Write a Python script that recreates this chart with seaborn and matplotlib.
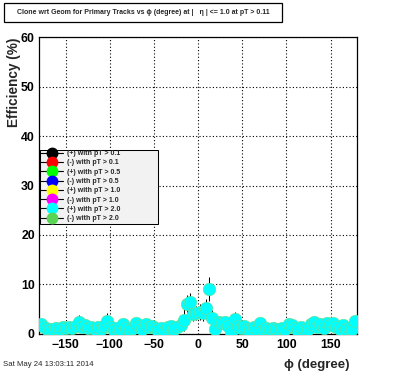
import numpy as np
import pandas as pd
import matplotlib.pyplot as plt
import seaborn as sns
from matplotlib.lines import Line2D
from matplotlib.patches import Rectangle
from matplotlib.ticker import MultipleLocator

# 100 bins in phi, only the top (cyan) series is visible in the picture
phi_centers = np.linspace(-178.2, 178.2, 100)
eff_values = [
    1.9, 1.4, 0.9, 1.0, 0.7, 1.2, 1.0, 1.3, 1.1, 1.4,
    1.2, 1.6, 2.4, 1.3, 1.7, 1.1, 1.4, 0.9, 1.3, 1.0,
    1.5, 2.6, 1.4, 0.8, 1.1, 0.9, 2.0, 1.2, 0.8, 1.1,
    2.1, 1.5, 1.0, 1.9, 1.3, 1.6, 1.1, 0.7, 1.2, 0.5,
    1.3, 1.6, 1.0, 1.4, 1.7, 2.8, 6.0, 6.4, 4.0, 4.2,
    4.4, 4.1, 5.2, 9.0, 3.2, 1.0, 2.4, 2.2, 2.3, 1.5,
    0.3, 3.0, 1.5, 1.2, 1.6, 1.0, 0.7, 1.3, 1.0, 2.2,
    0.8, 1.1, 0.9, 1.2, 1.0, 0.9, 1.1, 1.0, 2.0, 1.8,
    1.2, 0.8, 1.4, 1.0, 0.9, 1.9, 2.3, 1.4, 2.0, 1.1,
    2.2, 1.7, 2.2, 1.3, 1.0, 1.8, 0.9, 1.2, 1.0, 2.6,
]
eff_errors = [
    0.6, 0.5, 0.4, 0.5, 0.4, 0.5, 0.5, 0.5, 0.5, 0.6,
    0.5, 0.6, 1.3, 0.5, 0.6, 0.5, 0.6, 0.4, 0.5, 0.5,
    0.6, 1.6, 0.6, 0.4, 0.5, 0.4, 0.7, 0.5, 0.4, 0.5,
    0.7, 0.6, 0.5, 0.7, 0.5, 0.6, 0.5, 0.4, 0.5, 0.4,
    0.5, 0.6, 0.5, 0.6, 0.7, 2.2, 1.8, 1.8, 1.5, 1.5,
    1.6, 1.5, 1.8, 2.4, 1.6, 0.8, 1.0, 1.0, 1.0, 0.7,
    0.4, 1.4, 1.0, 0.5, 0.6, 0.5, 0.4, 0.5, 0.5, 0.7,
    0.4, 0.5, 0.4, 0.5, 0.5, 0.4, 0.5, 0.5, 0.7, 0.7,
    0.5, 0.4, 0.6, 0.5, 0.4, 0.7, 1.0, 0.6, 0.7, 0.5,
    0.7, 0.6, 0.7, 0.5, 0.5, 0.7, 0.4, 0.5, 0.5, 0.8,
]

series_labels = ['(+) with pT > 0.1', '(-) with pT > 0.1', '(+) with pT > 0.5',
                 '(-) with pT > 0.5', '(+) with pT > 1.0', '(-) with pT > 1.0',
                 '(+) with pT > 2.0', '(-) with pT > 2.0']
series_colors = ['#000000', '#ff0000', '#00ff00', '#0000ff', '#ffff00', '#ff00ff',
                 '#00ffff', '#59d454']

title_text = 'Clone wrt Geom for Primary Tracks vs \u03d5 (degree) at |   \u03b7 | <= 1.0 at pT > 0.11'
date_text = 'Sat May 24 13:03:11 2014'

sns.set_style('white')
plt.rcParams['font.family'] = ['Liberation Sans', 'DejaVu Sans']

df = pd.DataFrame({'phi': phi_centers, 'eff': eff_values, 'err': eff_errors})

fig = plt.figure(figsize=(3.96, 3.72), dpi=100)
ax = fig.add_axes([39 / 396, 1 - 333.7 / 372, 318 / 396, 296.4 / 372])

ax.errorbar(df['phi'], df['eff'], yerr=df['err'], fmt='none', ecolor='black',
            elinewidth=0.75, capsize=0, zorder=2)
sns.scatterplot(data=df, x='phi', y='eff', ax=ax, color='#00ffff', s=82,
                edgecolor='#6fdc8c', linewidth=0.4, zorder=3, legend=False)

ax.set_xlim(-180, 180)
ax.set_ylim(0, 60)
ax.xaxis.set_major_locator(MultipleLocator(50))
ax.xaxis.set_minor_locator(MultipleLocator(10))
ax.yaxis.set_major_locator(MultipleLocator(10))
ax.yaxis.set_minor_locator(MultipleLocator(2))
ax.tick_params(which='both', direction='in', top=False, right=False, colors='black')
ax.tick_params(which='major', length=6, width=0.75, labelsize=8.8, pad=3)
ax.tick_params(axis='x', which='major', pad=4)
ax.tick_params(which='minor', length=3, width=0.75)
for lab in ax.get_xticklabels() + ax.get_yticklabels():
    lab.set_fontweight('bold')
ax.grid(True, which='major', color='black', linestyle=(0, (1, 2)), linewidth=0.8)
for sp in ax.spines.values():
    sp.set_color('black')
    sp.set_linewidth(0.9)
ax.set_xlabel('')
ax.set_ylabel('')

# legend box like ROOT's TLegend
ax.add_patch(Rectangle((0.003, 0.369), 0.371, 0.252, transform=ax.transAxes,
                       facecolor='#f2f2f2', edgecolor='black', linewidth=0.75, zorder=4))
handles = [Line2D([0], [0], color='black', lw=0.8, marker='o', markersize=7.5,
                  markerfacecolor=c, markeredgecolor=c) for c in series_colors]
leg = ax.legend(handles, series_labels, loc='upper left', bbox_to_anchor=(0.0, 0.624),
                frameon=False, prop={'weight': 'bold', 'size': 5},
                handlelength=3.2, handletextpad=0.6, labelspacing=0.33,
                borderpad=0.2, borderaxespad=0.0)
leg.set_zorder(5)

fig.text(14 / 396, 1 - 38 / 372, 'Efficiency (%)', rotation=90, ha='center', va='top',
         fontsize=9.8, fontweight='bold')
fig.text(350 / 396, 1 - 365 / 372, '\u03d5 (degree)', ha='right', va='center',
         fontsize=9.5, fontweight='bold')
fig.text(3 / 396, 1 - 365 / 372, date_text, ha='left', va='center', fontsize=5.6)

fig.patches.append(Rectangle((4 / 396, 1 - 22 / 372), 278 / 396, 19 / 372,
                             transform=fig.transFigure, facecolor='white',
                             edgecolor='black', linewidth=0.9))
fig.text(143 / 396, 1 - 12.5 / 372, title_text, ha='center', va='center',
         fontsize=5.0, fontweight='bold')

fig.savefig('out.png', dpi=100)
